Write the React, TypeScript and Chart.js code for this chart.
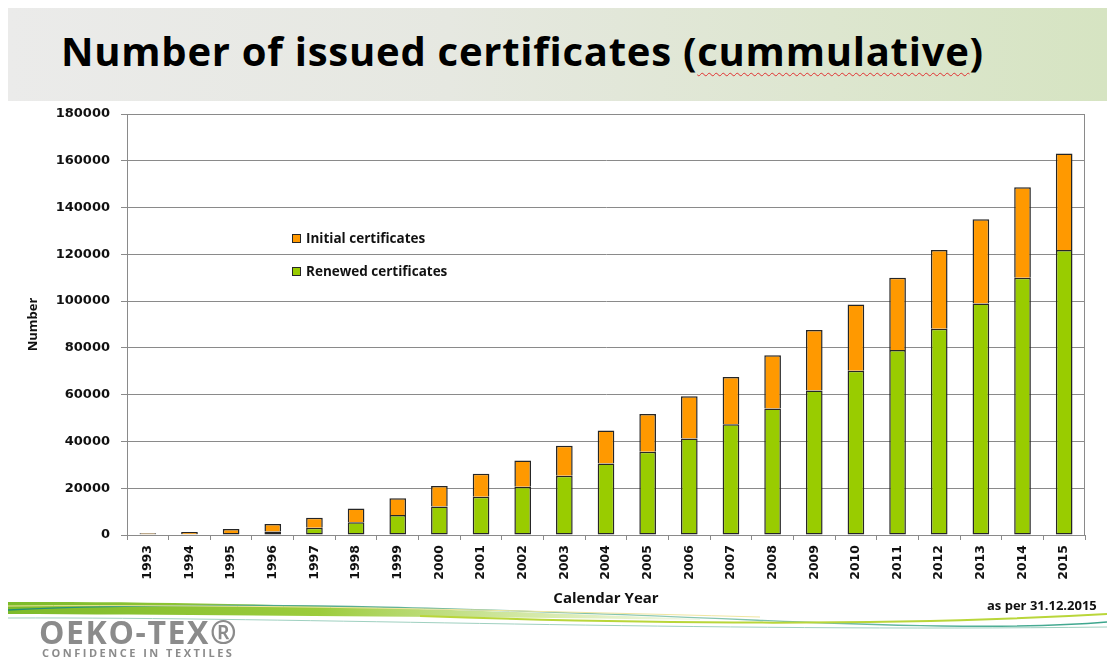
import React, { useEffect, useRef } from "react";
import { Chart, registerables } from "chart.js";

Chart.register(...registerables);

// ---- data ----
const years = [
  "1993", "1994", "1995", "1996", "1997", "1998", "1999", "2000", "2001", "2002", "2003", "2004",
  "2005", "2006", "2007", "2008", "2009", "2010", "2011", "2012", "2013", "2014", "2015",
];
const renewedCertificates = [
  300, 300, 900, 1500, 3100, 5400, 8500, 12200, 16400, 20600, 25300, 30600,
  35600, 41300, 47300, 54100, 61800, 70200, 79100, 88200, 99000, 110000, 121900,
];
const initialCertificates = [
  400, 1000, 1700, 3200, 4300, 5900, 7200, 8800, 9800, 11300, 12900, 14100,
  16100, 18000, 20300, 22700, 25800, 28400, 30900, 33700, 36000, 38700, 41200,
];
const yTickValues = [0, 20000, 40000, 60000, 80000, 100000, 120000, 140000, 160000, 180000];

const titleText = "Number of issued certificates";
const titleMisspelled = "cummulative";
const legendInitial = "Initial certificates";
const legendRenewed = "Renewed certificates";
const yTitle = "Number";
const xTitle = "Calendar Year";
const dateNote = "as per 31.12.2015";
const logoText = "OEKO-TEX®";
const logoSub = "CONFIDENCE IN TEXTILES";

const ORANGE = "#FF9900";
const GREEN = "#99CC00";
const GRID = "#8a8a8a";
const EDGE = "#262626";

const plotBorder = {
  id: "plotBorder",
  beforeDatasetsDraw(chart: any) {
    const { ctx, chartArea } = chart;
    ctx.save();
    ctx.strokeStyle = GRID;
    ctx.lineWidth = 1;
    ctx.beginPath();
    const x = Math.round(chartArea.right) - 0.5;
    const t = Math.round(chartArea.top) + 0.5;
    ctx.moveTo(x, t);
    ctx.lineTo(x, chartArea.bottom);
    ctx.moveTo(chartArea.left, t);
    ctx.lineTo(x, t);
    ctx.stroke();
    ctx.restore();
  },
};

export default function App() {
  const canvasRef = useRef<HTMLCanvasElement | null>(null);

  useEffect(() => {
    if (!canvasRef.current) return;
    const chart = new Chart(canvasRef.current, {
      type: "bar",
      data: {
        labels: years,
        datasets: [
          {
            label: legendRenewed,
            data: renewedCertificates,
            backgroundColor: GREEN,
            borderColor: EDGE,
            borderWidth: { top: 1.5, left: 1.5, right: 1.5, bottom: 1.5 },
            borderSkipped: false,
          },
          {
            label: legendInitial,
            data: initialCertificates,
            backgroundColor: ORANGE,
            borderColor: EDGE,
            borderWidth: { top: 1.5, left: 1.5, right: 1.5, bottom: 0 },
            borderSkipped: false,
          },
        ],
      },
      plugins: [plotBorder],
      options: {
        responsive: false,
        animation: false,
        devicePixelRatio: 1,
        layout: { padding: { top: 114, right: 22, bottom: 0, left: 0 } },
        plugins: {
          legend: { display: false },
          tooltip: { enabled: false },
        },
        datasets: {
          bar: { barPercentage: 0.4, categoryPercentage: 1 },
        },
        scales: {
          x: {
            stacked: true,
            afterFit: (s: any) => {
              s.height = 124;
            },
            grid: {
              offset: true,
              drawOnChartArea: false,
              drawTicks: true,
              tickLength: 5,
              color: GRID,
            },
            border: { display: true, color: GRID, width: 1 },
            ticks: {
              autoSkip: false,
              minRotation: 90,
              maxRotation: 90,
              padding: 5,
              color: "#111",
              font: { family: "DejaVu Sans", weight: "bold", size: 12.5 },
            },
            title: {
              display: true,
              text: xTitle,
              color: "#111",
              font: { family: "Open Sans", weight: "bold", size: 15 },
              padding: { top: 0, bottom: 51 },
            },
          },
          y: {
            stacked: true,
            min: 0,
            max: 180000,
            afterFit: (s: any) => {
              s.width = 127;
            },
            afterBuildTicks: (s: any) => {
              s.ticks = yTickValues.map((v) => ({ value: v }));
            },
            grid: {
              color: GRID,
              lineWidth: 1,
              drawTicks: true,
              tickLength: 6,
            },
            border: { display: true, color: GRID, width: 1 },
            ticks: {
              padding: 11,
              color: "#111",
              font: { family: "DejaVu Sans", weight: "bold", size: 13 },
              callback: (v: any) => String(v),
            },
            title: {
              display: true,
              text: yTitle,
              color: "#111",
              font: { family: "Open Sans", weight: "bold", size: 13 },
              padding: { top: 25, bottom: 0 },
            },
          },
        },
      },
    } as any);
    return () => chart.destroy();
  }, []);

  const legendItem = (color: string, text: string, top: number) => (
    <div
      style={{
        position: "absolute",
        left: 292,
        top,
        height: 14,
        display: "flex",
        alignItems: "center",
        whiteSpace: "nowrap",
      }}
    >
      <span
        style={{
          display: "inline-block",
          width: 7,
          height: 7,
          background: color,
          border: `1px solid ${EDGE}`,
          marginRight: 5,
        }}
      />
      <span
        style={{
          fontFamily: "Open Sans",
          fontWeight: 700,
          fontSize: 13.5,
          color: "#111",
          lineHeight: "14px",
        }}
      >
        {text}
      </span>
    </div>
  );

  return (
    <div
      style={{
        position: "absolute",
        left: 0,
        top: 0,
        width: 1107,
        height: 659,
        overflow: "hidden",
        background: "#ffffff",
      }}
    >
      {/* title banner */}
      <div
        style={{
          position: "absolute",
          left: 8,
          top: 8,
          width: 1099,
          height: 93,
          background: "linear-gradient(90deg, #ebebea 0%, #e6e8e1 40%, #dde6cf 75%, #d6e4c2 100%)",
        }}
      />
      <div
        style={{
          position: "absolute",
          left: 61,
          top: 31,
          fontFamily: "Open Sans",
          fontWeight: 700,
          fontSize: 40,
          lineHeight: "40px",
          letterSpacing: 0.75,
          color: "#000",
          whiteSpace: "nowrap",
        }}
      >
        {titleText} (
        <span
          style={{
            textDecorationLine: "underline",
            textDecorationStyle: "wavy",
            textDecorationColor: "#e03030",
            textDecorationThickness: "1px",
            textUnderlineOffset: "6px",
          }}
        >
          {titleMisspelled}
        </span>
        )
      </div>

      {/* footer swooshes */}
      <svg
        width={1107}
        height={659}
        style={{ position: "absolute", left: 0, top: 0 }}
      >
        <defs>
          <linearGradient id="swoosh" x1="0" x2="1" y1="0" y2="0">
            <stop offset="0" stopColor="#7dbb2a" />
            <stop offset="0.45" stopColor="#9ccc3c" />
            <stop offset="1" stopColor="#cfe59a" stopOpacity="0.3" />
          </linearGradient>
          <linearGradient id="teal" x1="0" x2="1" y1="0" y2="0">
            <stop offset="0" stopColor="#1f8f6e" />
            <stop offset="0.6" stopColor="#8fc9b5" />
            <stop offset="1" stopColor="#3aa58c" />
          </linearGradient>
        </defs>
        <path
          d="M8,602 C200,601 420,608 700,619 L700,620 C420,616 200,615 8,614 Z"
          fill="url(#swoosh)"
        />
        <path
          d="M8,610 C260,598 560,612 800,622 C950,628 1050,627 1107,622"
          stroke="url(#teal)"
          strokeWidth={1.4}
          fill="none"
        />
        <path
          d="M420,616 C650,624 900,626 1107,614"
          stroke="#b9d63a"
          strokeWidth={2}
          fill="none"
        />
        <path
          d="M8,618 C300,617 700,632 1107,627"
          stroke="#9fd0c0"
          strokeWidth={1}
          fill="none"
        />
        <path
          d="M8,606 C250,604 500,610 760,617"
          stroke="#f0e6a0"
          strokeWidth={1}
          fill="none"
        />
      </svg>

      <canvas
        ref={canvasRef}
        width={1107}
        height={659}
        style={{ position: "absolute", left: 0, top: 0, width: 1107, height: 659 }}
      />

      {legendItem(ORANGE, legendInitial, 231)}
      {legendItem(GREEN, legendRenewed, 264)}

      <div
        style={{
          position: "absolute",
          left: 987,
          top: 596,
          fontFamily: "Open Sans",
          fontWeight: 700,
          fontSize: 13,
          lineHeight: "18px",
          color: "#111",
          whiteSpace: "nowrap",
        }}
      >
        {dateNote}
      </div>

      <div
        style={{
          position: "absolute",
          left: 39,
          top: 613,
          fontFamily: "Open Sans",
          fontWeight: 700,
          fontSize: 32,
          lineHeight: "38px",
          letterSpacing: 1.6,
          color: "#8b8b8b",
          whiteSpace: "nowrap",
        }}
      >
        {logoText}
      </div>
      <div
        style={{
          position: "absolute",
          left: 42,
          top: 646,
          fontFamily: "Open Sans",
          fontWeight: 700,
          fontSize: 11,
          lineHeight: "13px",
          letterSpacing: 2.5,
          color: "#8b8b8b",
          whiteSpace: "nowrap",
        }}
      >
        {logoSub}
      </div>
    </div>
  );
}
